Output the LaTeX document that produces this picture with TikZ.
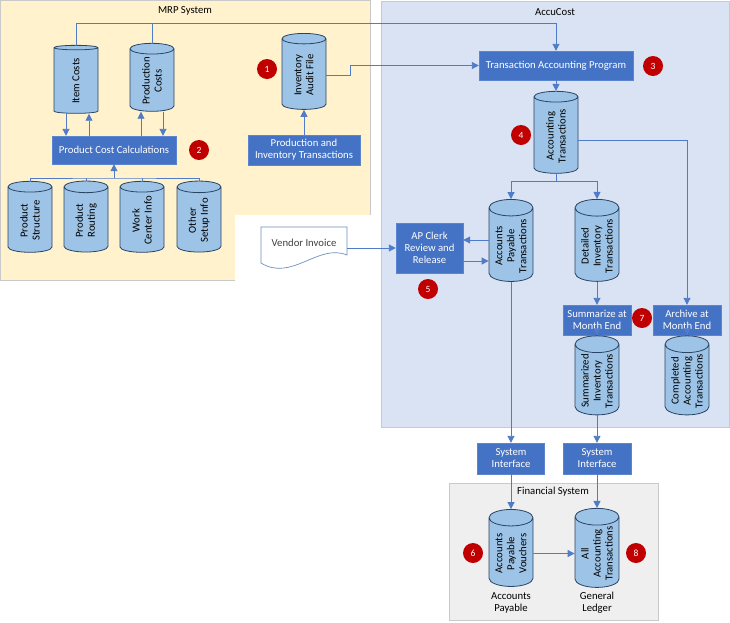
\documentclass[tikz,border=0pt]{standalone}
\usepackage{fontspec}
\setmainfont{Carlito}
\usetikzlibrary{arrows.meta, positioning, shapes.geometric, calc}

\definecolor{mrpyellow}{HTML}{FFF2CC}
\definecolor{accublue}{HTML}{DAE3F3}
\definecolor{fingray}{HTML}{EFEFEF}
\definecolor{arealine}{HTML}{C9C9C9}
\definecolor{procblue}{HTML}{4472C4}
\definecolor{procline}{HTML}{5B86CF}
\definecolor{storeblue}{HTML}{9DC3E6}
\definecolor{storeline}{HTML}{2A4466}
\definecolor{flowblue}{HTML}{4F7BC8}
\definecolor{badgered}{HTML}{C00000}
\definecolor{docline}{HTML}{6E8EBF}

\begin{document}
\begin{tikzpicture}[x=1pt, y=-1pt,
    every node/.style={font=\fontsize{10.7}{12}\selectfont},
    area/.style={draw=arealine, line width=0.6pt},
    proc/.style={rectangle, draw=procline, fill=procblue, text=white, align=center, inner sep=1pt},
    store/.style={cylinder, rotate=90, draw=storeline, fill=storeblue, line width=0.8pt, shape aspect=0.5, minimum width=44pt, inner sep=1pt, align=center},
    badge/.style={circle, fill=badgered, text=white, minimum size=20pt, inner sep=0pt, font=\fontsize{9.5}{9.5}\selectfont},
    flow/.style={draw=flowblue, line width=0.9pt},
    arr/.style={flow, -{Triangle[length=7pt, width=7pt]}}]
    \useasboundingbox (0,0) rectangle (730,622);

    % Areas
    \draw[area, fill=mrpyellow] (0.5,0.5) rectangle (370,280);
    \fill[white] (235,215) rectangle (371,281);
    \draw[area, fill=accublue] (381,1) rectangle (729,427);
    \draw[area, fill=fingray] (449,483) rectangle (658,620);
    \node (mrptitle) at (185,11) {MRP System};
    \node (accutitle) at (555,12) {AccuCost};
    \node (fintitle) at (553,492) {Financial System};

    % MRP system
    \node[store, minimum height=68pt] (itemcosts) at (76,81) {Item Costs};
    \node[store, minimum height=68pt] (prodcosts) at (152,81) {Production\\Costs};
    \node[store, minimum height=76pt] (auditfile) at (304,75) {Inventory\\Audit File};
    \node[proc, minimum width=124pt, minimum height=28pt] (pcc) at (114,150) {Product Cost Calculations};
    \node[proc, minimum width=112pt, minimum height=30pt] (pit) at (304,150) {Production and\\Inventory Transactions};
    \node[store, minimum height=71pt] (structure) at (30,220.5) {Product\\Structure};
    \node[store, minimum height=71pt] (routing) at (86,220.5) {Product\\Routing};
    \node[store, minimum height=71pt] (workcenter) at (142,220.5) {Work\\Center Info};
    \node[store, minimum height=71pt] (setup) at (199,220.5) {Other\\Setup Info};

    % AccuCost
    \node[proc, minimum width=154pt, minimum height=29pt] (tap) at (556,65.5) {Transaction Accounting Program};
    \node[store, minimum height=82pt] (accttrans) at (556,136) {Accounting\\Transactions};
    \node[store, minimum height=82pt] (aptrans) at (511,246) {Accounts\\Payable\\Transactions};
    \node[store, minimum height=82pt] (invtrans) at (597,246) {Detailed\\Inventory\\Transactions};
    \node[proc, minimum width=67pt, minimum height=50pt] (clerk) at (429.5,248) {AP Clerk\\Review and\\Release};
    \node[proc, minimum width=68pt, minimum height=30pt] (summarize) at (597,320) {Summarize at\\Month End};
    \node[proc, minimum width=68pt, minimum height=30pt] (archive) at (687,320) {Archive at\\Month End};
    \node[store, minimum height=76pt] (suminv) at (597,381) {Summarized\\Inventory\\Transactions};
    \node[store, minimum height=76pt] (complete) at (687,381) {Completed\\Accounting\\Transactions};

    % Vendor invoice
    \draw[draw=docline, fill=white, line width=0.7pt] (261,227) -- (347,227) -- (347,255) .. controls (318,243) and (292,282) .. (261,263) -- cycle;
    \node[minimum width=86pt, text=black!75] (vendor) at (304,243) {Vendor Invoice};

    % Interfaces and financial system
    \node[proc, minimum width=67pt, minimum height=31pt] (iface1) at (511,458.5) {System\\Interface};
    \node[proc, minimum width=68pt, minimum height=31pt] (iface2) at (597,458.5) {System\\Interface};
    \node[store, minimum height=77pt] (vouchers) at (511,553.5) {Accounts\\Payable\\Vouchers};
    \node[store, minimum height=77pt] (allacct) at (597,553.5) {All\\Accounting\\Transactions};
    \node[align=center] (aplabel) at (511,603) {Accounts\\Payable};
    \node[align=center] (gllabel) at (597,603) {General\\Ledger};

    % Badges
    \node[badge] (b1) at (267,69) {1};
    \node[badge] (b2) at (199,150) {2};
    \node[badge] (b3) at (653,66) {3};
    \node[badge] (b4) at (521,135) {4};
    \node[badge] (b5) at (428,289) {5};
    \node[badge] (b6) at (473,553) {6};
    \node[badge] (b7) at (642,318) {7};
    \node[badge] (b8) at (636,553) {8};

    % Connectors in MRP
    \coordinate (costbus) at (556,23);
    \draw[arr] (itemcosts.top) |- (costbus) -- (tap.north);
    \draw[flow] (prodcosts.top) -- (prodcosts.top |- costbus);
    \draw[arr] ([xshift=-10pt]itemcosts.bottom) -- ([xshift=-10pt]itemcosts.bottom |- pcc.north);
    \draw[arr] ([xshift=13pt]itemcosts.bottom |- pcc.north) -- ([xshift=13pt]itemcosts.bottom);
    \draw[arr] ([xshift=-11pt]prodcosts.bottom |- pcc.north) -- ([xshift=-11pt]prodcosts.bottom);
    \draw[arr] ([xshift=11pt]prodcosts.bottom) -- ([xshift=11pt]prodcosts.bottom |- pcc.north);
    \coordinate (setupbus) at (114,178);
    \draw[flow] (structure.top) |- (setupbus) -| (setup.top);
    \draw[flow] (routing.top) -- (routing.top |- setupbus);
    \draw[flow] (workcenter.top) -- (workcenter.top |- setupbus);
    \draw[arr] (setupbus) -- (pcc.south);
    \draw[arr] (pit.north) -- (auditfile.bottom);
    \draw[arr] (auditfile.south) -- ++(24,0) |- (tap.west);

    % Connectors in AccuCost
    \draw[arr] (tap.south) -- (accttrans.top);
    \draw[arr] ([yshift=-4pt]accttrans.south) -| (archive.north);
    \draw[flow] (accttrans.bottom) -- ++(0,8) coordinate (split);
    \draw[arr] (split) -| (aptrans.top);
    \draw[arr] (split) -| (invtrans.top);
    \draw[arr] ([yshift=8pt]clerk.east -| aptrans.north) -- ([yshift=8pt]clerk.east);
    \draw[arr] ([yshift=-13pt]clerk.east) -- ([yshift=-13pt]clerk.east -| aptrans.north);
    \draw[arr] (vendor.east |- clerk.west) -- (clerk.west);
    \draw[arr] (invtrans.bottom) -- (summarize.north);
    \draw[arr] (summarize.south) -- (suminv.top);
    \draw[arr] (archive.south) -- (complete.top);

    % To the financial system
    \draw[arr] (aptrans.bottom) -- (iface1.north);
    \draw[arr] (suminv.bottom) -- (iface2.north);
    \draw[arr] (iface1.south) -- (vouchers.top);
    \draw[arr] (iface2.south) -- (allacct.top);
    \draw[arr] (vouchers.south) -- (allacct.north);
\end{tikzpicture}
\end{document}
